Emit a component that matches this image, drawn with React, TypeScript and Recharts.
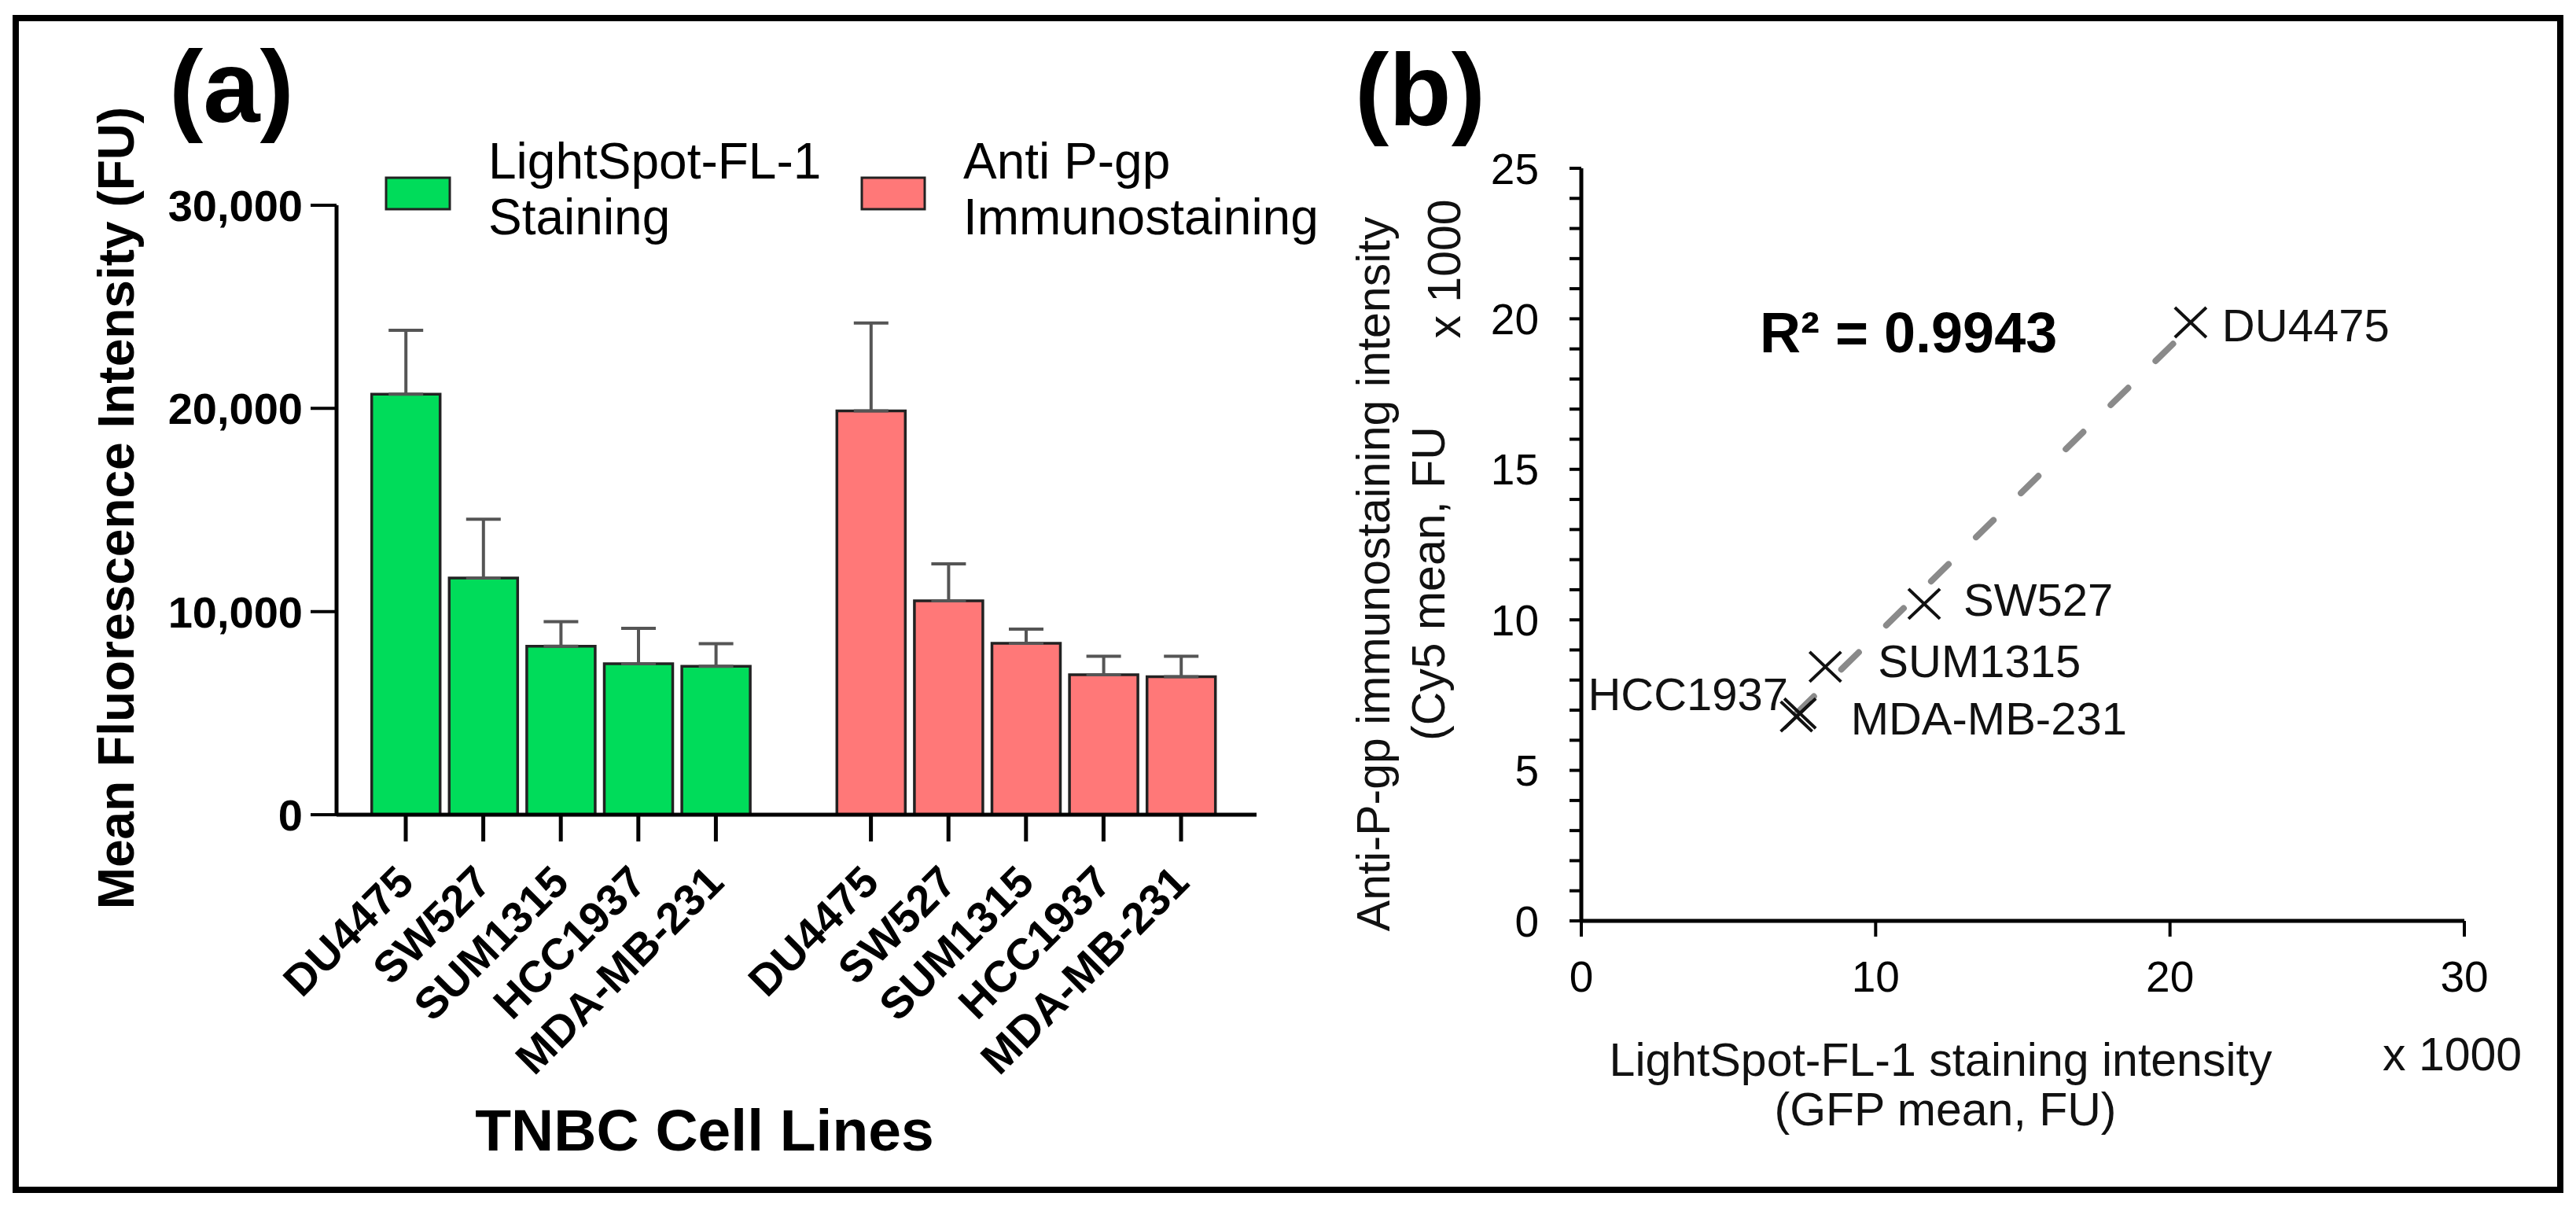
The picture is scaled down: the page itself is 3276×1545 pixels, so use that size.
import React from 'react';
import { BarChart, Bar, XAxis, YAxis, ErrorBar, ScatterChart, Scatter } from 'recharts';

const FONT = "'Liberation Sans', Arial, Helvetica, sans-serif";
const GREEN = '#00DC5A';
const RED = '#FF7878';

// ---- Panel (a) data ----
const cellLines = ['DU4475', 'SW527', 'SUM1315', 'HCC1937', 'MDA-MB-231'];
const lightSpotMeans = [20700, 11650, 8290, 7430, 7310];
const lightSpotErrors = [3150, 2900, 1210, 1740, 1110];
const pgpMeans = [19880, 10530, 8440, 6890, 6790];
const pgpErrors = [4320, 1820, 700, 910, 1010];
const barYTicks = [0, 10000, 20000, 30000];
const seriesNames = [['LightSpot-FL-1', 'Staining'], ['Anti P-gp', 'Immunostaining']];

// ---- Panel (b) data ----
const scatterXTicks = [0, 10, 20, 30];
const scatterYTicks = [0, 1, 2, 3, 4, 5, 6, 7, 8, 9, 10, 11, 12, 13, 14, 15, 16, 17, 18, 19, 20, 21, 22, 23, 24, 25];
const trendLine = [
  { x: 7.31, y: 6.89 },
  { x: 20.71, y: 19.75 },
];
const rSquaredText = 'R\u00B2 = 0.9943';

const barRows: any[] = [
  ...cellLines.map((name, i) => ({ key: `g${i}`, name, light: lightSpotMeans[i], lightErr: [0, lightSpotErrors[i]] })),
  { key: 'gap', name: '' },
  ...cellLines.map((name, i) => ({ key: `r${i}`, name, pgp: pgpMeans[i], pgpErr: [0, pgpErrors[i]] })),
];

const scatterPoints = cellLines.map((name, i) => ({ name, x: lightSpotMeans[i] / 1000, y: pgpMeans[i] / 1000 }));

// label placement (style config, px)
const labelPlacement: Record<string, { dx: number; dy: number; anchor: string }> = {
  DU4475: { dx: 40, dy: 3, anchor: 'start' },
  SW527: { dx: 50, dy: -6, anchor: 'start' },
  SUM1315: { dx: 67, dy: -8, anchor: 'start' },
  HCC1937: { dx: -15, dy: -25, anchor: 'end' },
  'MDA-MB-231': { dx: 69, dy: 2, anchor: 'start' },
};

const BarTick = (props: any) => {
  const { x, y, payload } = props;
  const row = barRows.find((r) => r.key === payload.value);
  if (!row || !row.name) return <g />;
  const tx = x + 13;
  const ty = y + 89;
  return (
    <g>
      <line x1={x} y1={y} x2={x} y2={y + 34} stroke="#000" strokeWidth={5} />
      <text
        x={tx}
        y={ty}
        transform={`rotate(-45, ${tx}, ${ty})`}
        textAnchor="end"
        fontSize={56}
        fontWeight="bold"
        fontFamily={FONT}
        fill="#000"
      >
        {row.name}
      </text>
    </g>
  );
};

const CrossShape = (props: any) => {
  const { cx, cy, payload } = props;
  if (cx == null || cy == null) return <g />;
  const p = labelPlacement[payload.name] || { dx: 45, dy: 0, anchor: 'start' };
  return (
    <g>
      <line x1={cx - 20} y1={cy - 19} x2={cx + 20} y2={cy + 19} stroke="#111" strokeWidth={4} />
      <line x1={cx - 20} y1={cy + 19} x2={cx + 20} y2={cy - 19} stroke="#111" strokeWidth={4} />
      <text x={cx + p.dx} y={cy + p.dy + 21} textAnchor={p.anchor as any} fontSize={58} fontFamily={FONT} fill="#111">
        {payload.name}
      </text>
    </g>
  );
};

const NoShape = () => <g />;

export default function App() {
  return (
    <div style={{ position: 'absolute', left: 0, top: 0, width: 3276, height: 1545, background: '#fff', fontFamily: FONT, overflow: 'hidden' }}>
      <div style={{ position: 'absolute', left: 16, top: 19, width: 3244, height: 1498, border: '8px solid #000', boxSizing: 'border-box' }} />

      <div style={{ position: 'absolute', left: 0, top: 0 }}>
        <BarChart width={1700} height={1545} data={barRows} margin={{ top: 261, right: 102, bottom: 309, left: 228 }}>
          <XAxis
            dataKey="key"
            interval={0}
            height={200}
            padding={{ left: 38.7, right: 46.7 }}
            tickSize={0}
            tickMargin={0}
            tickLine={false}
            axisLine={{ stroke: '#000', strokeWidth: 5 }}
            tick={(p: any) => <BarTick {...p} />}
          />
          <YAxis
            type="number"
            domain={[0, 30000]}
            ticks={barYTicks}
            interval={0}
            width={200}
            tickSize={33}
            tickMargin={10}
            axisLine={{ stroke: '#000', strokeWidth: 5 }}
            tickLine={{ stroke: '#000', strokeWidth: 4 }}
            tickFormatter={(v: number) => v.toLocaleString('en-US')}
            tick={{ fontSize: 56, fontWeight: 'bold', fill: '#000', fontFamily: FONT }}
          />
          <Bar dataKey="light" name={seriesNames[0].join(' ')} stackId="s" fill={GREEN} stroke="#222" strokeWidth={3.5} barSize={87} isAnimationActive={false}>
            <ErrorBar dataKey="lightErr" width={22} stroke="#555" strokeWidth={4} direction="y" isAnimationActive={false} />
          </Bar>
          <Bar dataKey="pgp" name={seriesNames[1].join(' ')} stackId="s" fill={RED} stroke="#222" strokeWidth={3.5} barSize={87} isAnimationActive={false}>
            <ErrorBar dataKey="pgpErr" width={22} stroke="#555" strokeWidth={4} direction="y" isAnimationActive={false} />
          </Bar>
        </BarChart>
      </div>

      <div style={{ position: 'absolute', left: 1700, top: 0 }}>
        <ScatterChart width={1576} height={1545} margin={{ top: 214, right: 142, bottom: 274, left: 161 }}>
          <XAxis
            type="number"
            dataKey="x"
            domain={[0, 30]}
            ticks={scatterXTicks}
            interval={0}
            height={100}
            tickSize={20}
            tickMargin={31}
            axisLine={{ stroke: '#000', strokeWidth: 5 }}
            tickLine={{ stroke: '#000', strokeWidth: 4 }}
            tick={{ fontSize: 55, fill: '#000', fontFamily: FONT }}
          />
          <YAxis
            type="number"
            dataKey="y"
            domain={[0, 25]}
            ticks={scatterYTicks}
            interval={0}
            width={150}
            tickSize={15}
            tickMargin={39}
            axisLine={{ stroke: '#000', strokeWidth: 5 }}
            tickLine={{ stroke: '#000', strokeWidth: 4 }}
            tickFormatter={(v: number) => (v % 5 === 0 ? String(v) : '')}
            tick={{ fontSize: 55, fill: '#000', fontFamily: FONT }}
          />
          <Scatter
            data={trendLine}
            line={{ stroke: '#8a8a8a', strokeWidth: 8, strokeDasharray: '31 49', strokeLinecap: 'round' } as any}
            shape={NoShape as any}
            isAnimationActive={false}
          />
          <Scatter data={scatterPoints} shape={CrossShape as any} isAnimationActive={false} />
        </ScatterChart>
      </div>

      <svg width={3276} height={1545} style={{ position: 'absolute', left: 0, top: 0, pointerEvents: 'none' }} fontFamily={FONT}>
        {/* panel labels */}
        <text x={215} y={155} fontSize={130} fontWeight="bold" fill="#000">(a)</text>
        <text x={1723} y={159} fontSize={130} fontWeight="bold" fill="#000">(b)</text>

        {/* legend (a) */}
        <rect x={491} y={226} width={81} height={40} fill={GREEN} stroke="#222" strokeWidth={3} />
        <text x={621} y={227} fontSize={64} fill="#000">{seriesNames[0][0]}</text>
        <text x={621} y={298} fontSize={64} fill="#000">{seriesNames[0][1]}</text>
        <rect x={1096} y={226} width={80} height={40} fill={RED} stroke="#222" strokeWidth={3} />
        <text x={1225} y={227} fontSize={64} fill="#000">{seriesNames[1][0]}</text>
        <text x={1225} y={298} fontSize={64} fill="#000">{seriesNames[1][1]}</text>

        {/* axis titles (a) */}
        <text x={170} y={646} transform="rotate(-90, 170, 646)" textAnchor="middle" fontSize={64} fontWeight="bold" fill="#000">
          Mean Fluorescence Intensity (FU)
        </text>
        <text x={896} y={1463} textAnchor="middle" fontSize={75} fontWeight="bold" fill="#000">TNBC Cell Lines</text>

        {/* axis titles (b) */}
        <text x={1767} y={730} transform="rotate(-90, 1767, 730)" textAnchor="middle" fontSize={59} fill="#111">
          Anti-P-gp immunostaining intensity
        </text>
        <text x={1837} y={742} transform="rotate(-90, 1837, 742)" textAnchor="middle" fontSize={59} fill="#111">
          (Cy5 mean, FU
        </text>
        <text x={1857} y={342} transform="rotate(-90, 1857, 342)" textAnchor="middle" fontSize={59} fill="#111">
          x 1000
        </text>
        <text x={2468} y={1368} textAnchor="middle" fontSize={59} fill="#111">LightSpot-FL-1 staining intensity</text>
        <text x={2474} y={1431} textAnchor="middle" fontSize={59} fill="#111">(GFP mean, FU)</text>
        <text x={3030} y={1361} fontSize={59} fill="#111">x 1000</text>

        <text x={2238} y={448} fontSize={72} fontWeight="bold" fill="#000">{rSquaredText}</text>
      </svg>
    </div>
  );
}
